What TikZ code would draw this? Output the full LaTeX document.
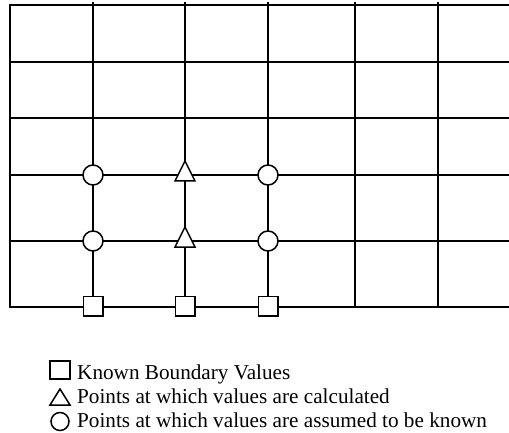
\documentclass[tikz,border=0pt]{standalone}
\usepackage{fontspec}
\setmainfont{Liberation Serif}
\begin{document}
\begin{tikzpicture}[x=1pt,y=-1pt,
  gridline/.style={line width=1.9pt, black, line cap=rect},
  circmark/.style={draw, fill=white, circle, inner sep=0pt, minimum size=20pt, line width=1.5pt},
  sqmark/.style={draw, fill=white, rectangle, inner sep=0pt, minimum size=19.5pt, line width=1.5pt},
  trimark/.style={draw, fill=white, line width=1.5pt, line join=miter},
  legtext/.style={anchor=base west, inner sep=0pt, font=\fontsize{21.2}{24}\selectfont}]
\useasboundingbox (0,0) rectangle (509,433);
% grid
\draw[gridline] (512,5) -- (10,5) -- (10,307) -- (512,307);
\foreach \y in {62,118,175,241}
  \draw[gridline] (10,\y) -- (512,\y);
\foreach \x in {93,185,268,355,438}
  \draw[gridline] (\x,3) -- (\x,307);
% circles
\node[circmark] (c1) at (93,175) {};
\node[circmark] (c2) at (93,241) {};
\node[circmark] (c3) at (268,175) {};
\node[circmark] (c4) at (268,241) {};
% triangles
\coordinate (t1) at (185,175);
\coordinate (t2) at (185,241);
\draw[trimark, shift={(t1)}] (-10,6) -- (10,6) -- (0,-14) -- cycle;
\draw[trimark, shift={(t2)}] (-10,6) -- (10,6) -- (0,-14) -- cycle;
% squares
\node[sqmark] (s1) at (93,306) {};
\node[sqmark] (s2) at (185,306) {};
\node[sqmark] (s3) at (268,306) {};
% legend
\node[sqmark, minimum width=20pt, minimum height=18pt] (ls) at (60,370) {};
\coordinate (lt) at (60,405);
\draw[trimark, shift={(lt)}] (-10,0) -- (10,0) -- (0,-16) -- cycle;
\node[circmark, minimum size=18pt] (lc) at (60,421.5) {};
\node[legtext] (l1) at (77,379.3) {Known Boundary Values};
\node[legtext] (l2) at (77,403.3) {Points at which values are calculated};
\node[legtext] (l3) at (77,427.3) {Points at which values are assumed to be known};
\end{tikzpicture}
\end{document}
